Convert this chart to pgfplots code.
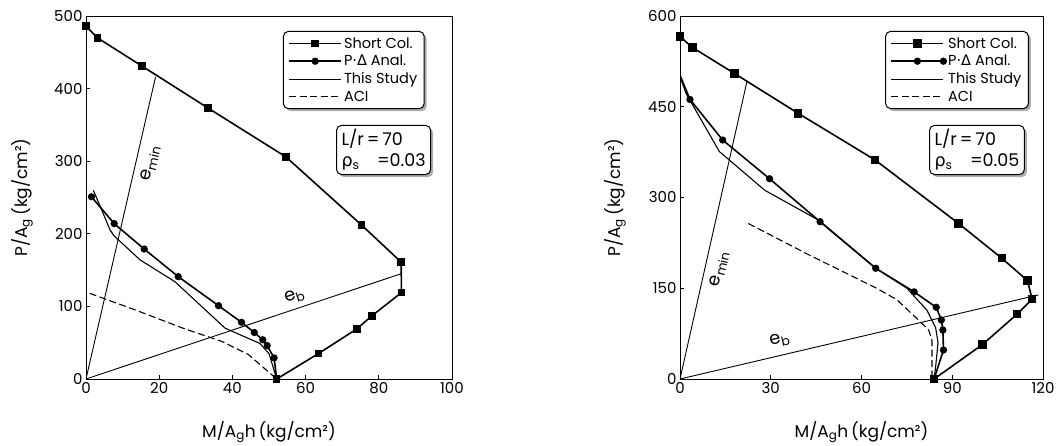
\documentclass[border=0pt]{standalone}
\usepackage{fontspec}
\setmainfont{Poppins}
\newfontfamily\dv{DejaVu Sans}
\usepackage{pgfplots}
\pgfplotsset{compat=1.18}
\usetikzlibrary{shadows}

\makeatletter
\tikzset{noshadow/.code={\let\tikz@preactions\pgfutil@empty}}
\makeatother

\tikzset{
  infobox/.style={draw, line width=1pt, rounded corners=5pt, fill=white,
      drop shadow={shadow xshift=2.5pt, shadow yshift=-2.5pt, fill=black!65},
      align=left, anchor=north east, font=\fontsize{17.5}{21}\selectfont, inner xsep=5pt, inner ysep=4pt},
  elabel/.style={font=\fontsize{18}{20}\selectfont, inner sep=0pt},
}
\pgfplotsset{
  base/.style={
    scale only axis,
    axis line style={line width=0.9pt},
    tick align=inside, tick pos=left, major tick length=4pt,
    tick style={line width=0.7pt, black},
    ticklabel style={font=\fontsize{15}{17}\selectfont},
    /pgf/number format/assume math mode=true,
    label style={font=\fontsize{17}{20}\selectfont},
    xlabel={M/A\textsubscript{g}h\,(kg/cm²)},
    ylabel={P/A\textsubscript{g}\,(kg/cm²)},
    legend cell align=left,
    legend style={draw=black, rounded corners=5pt, fill=white,
      font=\fontsize{14.5}{17}\selectfont,
      drop shadow={shadow xshift=2.5pt, shadow yshift=-2.5pt, fill=black!65},
      row sep=1.5pt, inner xsep=5pt, inner ysep=4pt},
    legend image code/.code={\draw[noshadow,mark repeat=2,mark phase=2,#1] plot coordinates {(0pt,0pt) (26pt,0pt) (52pt,0pt)};},
    every mark/.append style={sharp corners},
  },
  shortcol/.style={black, line width=1.6pt, mark=square*, mark size=3pt, mark options={solid}},
  pdelta/.style={black, line width=1.6pt, mark=*, mark size=2.8pt, mark options={solid}},
  study/.style={black, line width=1.1pt},
  aci/.style={black, line width=1.1pt, dash pattern=on 7pt off 3.5pt},
  eline/.style={black, line width=0.9pt, forget plot},
}

\begin{document}
\begin{tikzpicture}
\useasboundingbox (0,0) rectangle (1063pt,446pt);

% ---------------- Left panel ----------------
\begin{axis}[base,
  at={(86pt,67pt)}, anchor=south west,
  width=366pt, height=363pt,
  xmin=0, xmax=100, ymin=0, ymax=500,
  xtick={0,20,...,100}, ytick={0,100,...,500},
  ylabel style={at={(axis description cs:-0.175,0.5)}, anchor=center},
  xlabel style={at={(axis description cs:0.5,-0.146)}, anchor=center},
  legend style={at={(0.538,0.959)}, anchor=north west, line width=1pt},
]
\addplot[eline] coordinates {(0,0) (19,416)};
\addplot[eline] coordinates {(0,0) (86.1,145)};
\addplot[shortcol] coordinates {(0,486) (3.1,470) (15.3,431) (33.4,373) (54.6,306) (75.3,212) (86.1,161) (86.2,119) (78.1,87) (74,69) (63.5,35) (52.1,0)};
\addlegendentry{Short Col.}
\addplot[pdelta] coordinates {(1.5,251) (7.7,214) (15.9,179) (25.2,141) (36.2,101) (42.5,78) (46,64) (48.3,54) (49.5,46) (51.4,29) (52.1,0)};
\addlegendentry{P{\dv·Δ} Anal.}
\addplot[study] coordinates {(2,260) (4.7,228) (6.6,205) (7.7,197) (14.8,164) (24.3,134) (38,70) (47.5,49) (50,35) (52.1,0)};
\addlegendentry{This Study}
\addplot[aci] coordinates {(1,118) (13,96) (27,69) (37,52) (44.3,34) (52.1,0)};
\addlegendentry{ACI}
\node[infobox] at (rel axis cs:0.943,0.70) {L/r\,=\,70\\{\dv ρ}\textsubscript{s}\quad=0.03};
\node[elabel, rotate=77] at (axis cs:17.6,297) {e\textsubscript{min}};
\node[elabel, rotate=18] at (axis cs:57,114) {e\textsubscript{b}};
\end{axis}

% ---------------- Right panel ----------------
\begin{axis}[base,
  at={(680pt,67pt)}, anchor=south west,
  width=363pt, height=363pt,
  xmin=0, xmax=120, ymin=0, ymax=600,
  xtick={0,30,...,120}, ytick={0,150,...,600},
  ylabel style={at={(axis description cs:-0.179,0.5)}, anchor=center},
  xlabel style={at={(axis description cs:0.5,-0.146)}, anchor=center},
  legend style={at={(0.565,0.959)}, anchor=north west, line width=1pt},
]
\addplot[eline] coordinates {(0,0) (22.1,491)};
\addplot[eline] coordinates {(0,0) (118.5,139)};
\addplot[shortcol, mark size=3.4pt] coordinates {(0,566) (4.1,548) (18,505) (39.1,439) (64.5,362) (92.1,257) (106.4,199.5) (114.9,162.5) (116.4,132) (111.4,107) (100,57) (84,0)};
\addlegendentry{Short Col.}
\addplot[pdelta, mark indices={2,3,4,5,6,7,8,9,10,11}] coordinates {(0,502) (3.3,462) (14.1,395) (29.6,331) (46.3,260) (64.7,183) (77.4,144) (84.7,118.5) (86.4,97.5) (86.9,81) (87.1,48) (84,0)};
\addlegendentry{P{\dv·Δ} Anal.}
\addplot[study] coordinates {(0,500) (2,472) (13,376) (28,312) (46,262) (64.7,183) (75,150) (81.6,114) (84.5,85) (85.3,60) (84.5,20) (84,0)};
\addlegendentry{This Study}
\addplot[aci] coordinates {(22.6,257) (41.9,207) (65,150) (71.7,131) (78.3,100) (82.2,81) (83.3,64) (83.3,0)};
\addlegendentry{ACI}
\node[infobox] at (rel axis cs:0.950,0.70) {L/r\,=\,70\\{\dv ρ}\textsubscript{s}\quad=0.05};
\node[elabel, rotate=77] at (axis cs:13,182) {e\textsubscript{min}};
\node[elabel, rotate=13] at (axis cs:33,64) {e\textsubscript{b}};
\end{axis}
\end{tikzpicture}
\end{document}
